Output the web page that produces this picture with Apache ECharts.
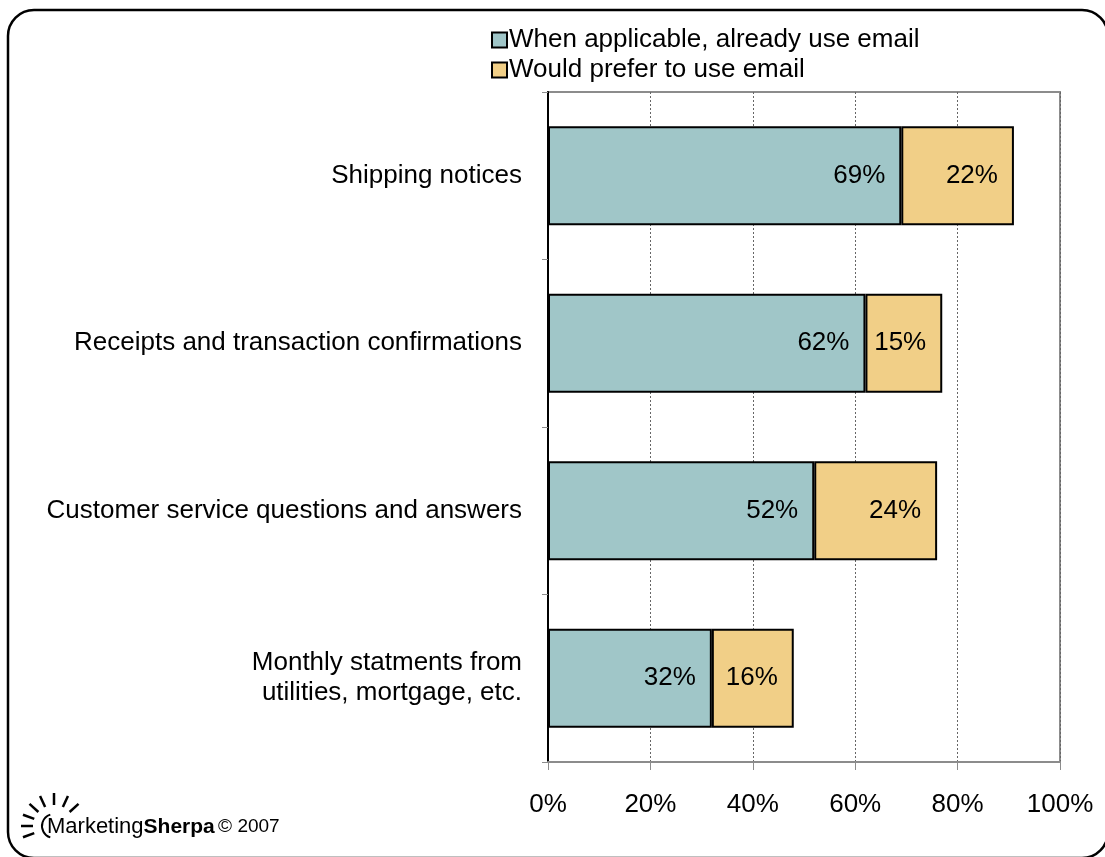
<!DOCTYPE html>
<html>
<head>
<meta charset="utf-8">
<script src="https://cdn.jsdelivr.net/npm/echarts@6/dist/echarts.min.js"></script>
<style>
  html, body { margin: 0; padding: 0; background: #fff; }
  #chart { width: 1105px; height: 857px; }
</style>
</head>
<body>
<div id="chart"></div>
<script>
var categories = ['Shipping notices', 'Receipts and transaction confirmations', 'Customer service questions and answers', 'Monthly statments from\nutilities, mortgage, etc.'];
var alreadyUse = [69, 62, 52, 32];
var wouldPrefer = [22, 15, 24, 16];
var seriesNames = ['When applicable, already use email', 'Would prefer to use email'];
var xTicks = [0, 20, 40, 60, 80, 100];

var font = '"Liberation Sans", Arial, sans-serif';

var chart = echarts.init(document.getElementById('chart'));

function barLabel() {
    return {
        show: true,
        position: 'insideRight',
        distance: 16,
        color: '#000',
        fontFamily: font,
        fontSize: 26,
        formatter: '{c}%'
    };
}

// sun rays of the logo, angles in degrees
var rayAngles = [200, 180, 160, 138, 115, 90, 65, 42];
var logoParts = [{
    type: 'arc',
    shape: { cx: 54, cy: 826, r: 12, startAngle: Math.PI * 0.6, endAngle: Math.PI * 1.4 },
    style: { fill: 'none', stroke: '#000', lineWidth: 2 }
}];
rayAngles.forEach(function(a) {
    var t = a * Math.PI / 180;
    logoParts.push({
        type: 'line',
        shape: {
            x1: 54 + Math.cos(t) * 21, y1: 826 - Math.sin(t) * 21,
            x2: 54 + Math.cos(t) * 33, y2: 826 - Math.sin(t) * 33
        },
        style: { stroke: '#000', lineWidth: 2.5 }
    });
});

chart.setOption({
    animation: false,
    backgroundColor: '#fff',
    textStyle: { fontFamily: font },
    legend: {
        orient: 'vertical',
        left: 486,
        top: 22,
        itemWidth: 15,
        itemHeight: 15,
        itemGap: 4,
        icon: 'rect',
        textStyle: { fontSize: 26, color: '#000', padding: [0, 0, 0, -3] },
        data: seriesNames
    },
    grid: {
        left: 548,
        right: 45,
        top: 92,
        bottom: 95,
        show: true,
        borderColor: '#8c8c8c',
        borderWidth: 2
    },
    xAxis: {
        type: 'value',
        min: 0,
        max: 100,
        interval: 20,
        axisLine: { show: true, lineStyle: { color: '#8c8c8c', width: 2 } },
        axisTick: { show: true, length: 8, lineStyle: { color: '#8c8c8c', width: 1 } },
        axisLabel: {
            margin: 30,
            fontSize: 26,
            color: '#000',
            formatter: function(v) { return xTicks.indexOf(v) >= 0 ? v + '%' : ''; }
        },
        splitLine: { show: true, lineStyle: { color: '#666', type: [2, 2], width: 1 } }
    },
    yAxis: {
        type: 'category',
        inverse: true,
        data: categories,
        axisLine: { show: true, lineStyle: { color: '#000', width: 2 } },
        axisTick: { show: true, length: 6, lineStyle: { color: '#8c8c8c', width: 1 } },
        axisLabel: {
            margin: 26,
            fontSize: 26,
            color: '#000',
            align: 'right',
            lineHeight: 30
        }
    },
    series: [{
        name: seriesNames[0],
        type: 'bar',
        stack: 'total',
        barWidth: 99,
        data: alreadyUse,
        itemStyle: { color: '#a0c6c8', borderColor: '#000', borderWidth: 2 },
        label: barLabel()
    }, {
        name: seriesNames[1],
        type: 'bar',
        stack: 'total',
        barWidth: 99,
        data: wouldPrefer,
        itemStyle: { color: '#f1cf87', borderColor: '#000', borderWidth: 2 },
        label: barLabel()
    }],
    graphic: [{
        type: 'rect',
        shape: { x: 8, y: 10, width: 1100, height: 848, r: 26 },
        style: { fill: 'none', stroke: '#000', lineWidth: 2.5 },
        z: 100
    }, {
        type: 'group',
        children: logoParts
    }, {
        type: 'text',
        left: 47,
        top: 816,
        style: {
            text: '{n|Marketing}{b|Sherpa} {s|© 2007}',
            rich: {
                n: { fontSize: 22, fontFamily: font, fill: '#000' },
                b: { fontSize: 21, fontFamily: font, fontWeight: 'bold', fill: '#000' },
                s: { fontSize: 19, fontFamily: font, fill: '#000' }
            }
        }
    }]
});
</script>
</body>
</html>
